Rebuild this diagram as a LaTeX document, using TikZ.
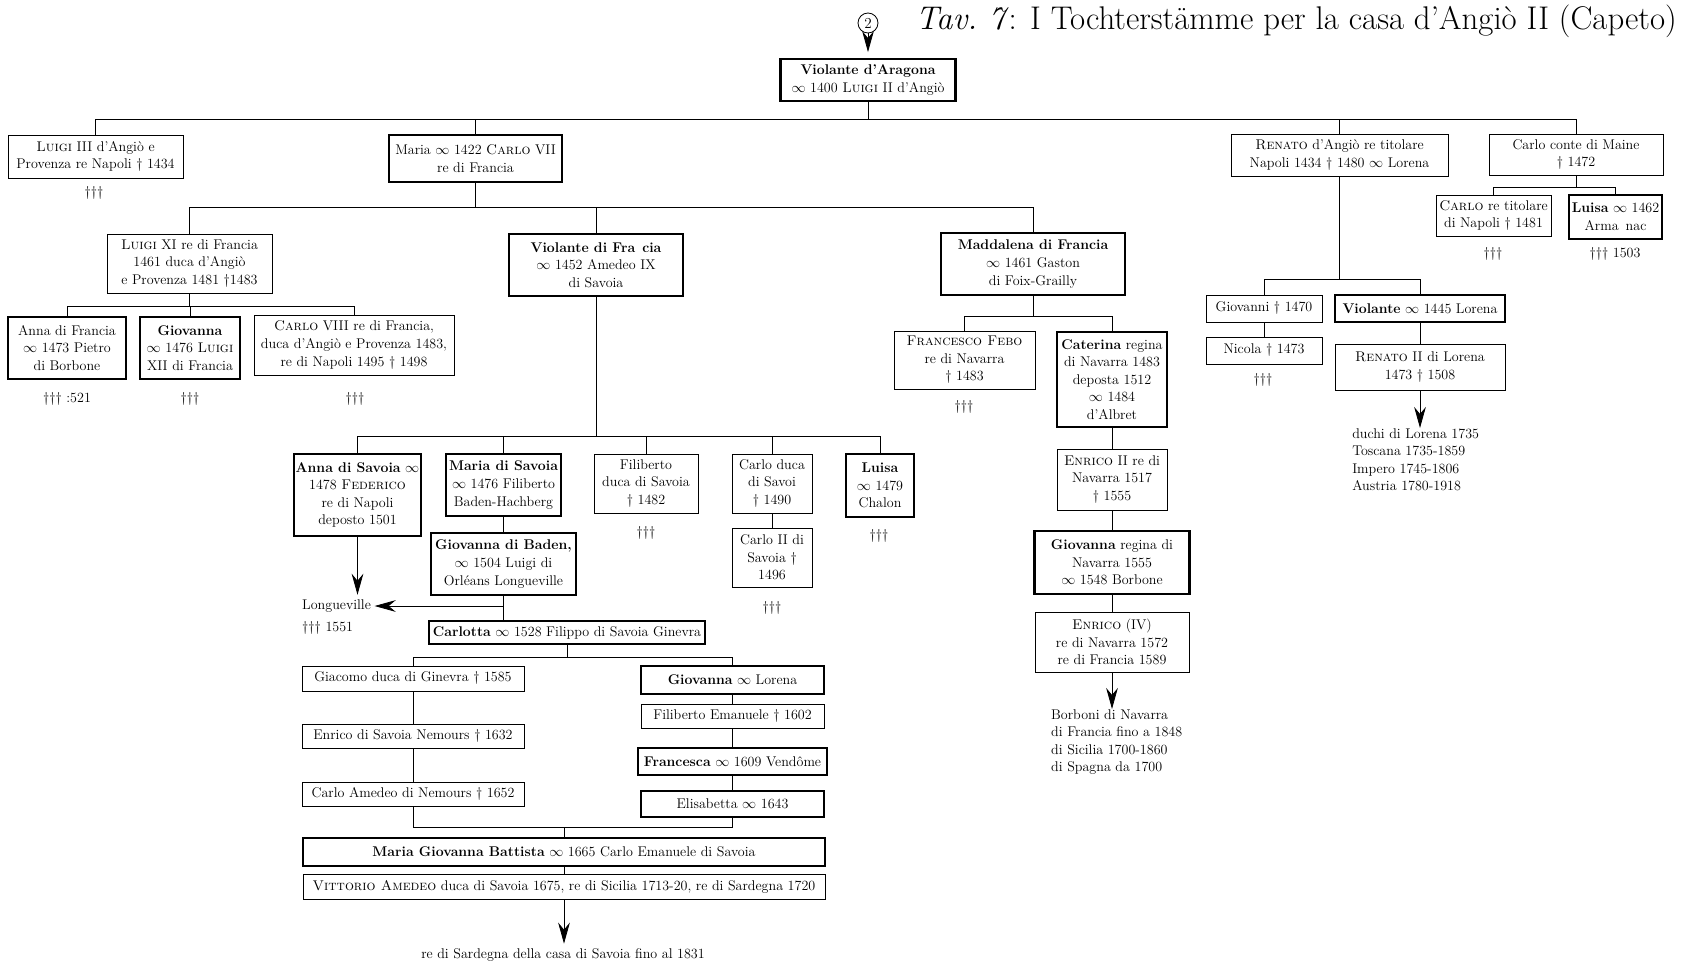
\documentclass[tikz,border=0pt]{standalone}
\usetikzlibrary{arrows.meta,positioning,calc}
\newcommand{\marr}{$\infty$}
\newcommand{\obiit}{\textdagger}
\newcommand{\extinct}{\textdagger\textdagger\textdagger}
\tikzset{
  thinbox/.style={draw,line width=0.7pt,align=center,inner sep=1.5pt,font=\fontsize{12}{15}\selectfont},
  thickbox/.style={thinbox,line width=1.8pt},
  link/.style={line width=0.7pt},
  desc/.style={-{Stealth[length=18pt,width=10pt,inset=6pt]},line width=0.7pt},
  note/.style={inner sep=0pt,font=\fontsize{12}{15}\selectfont},
}
\begin{document}
\begin{tikzpicture}[x=0.03cm,y=-0.03cm]
	\useasboundingbox (0,0) rectangle (1681,968);

	\node[anchor=base east,inner sep=0pt,font=\fontsize{28}{30}\selectfont] (title) at (1677,29) {\textit{Tav.\ 7}: I Tochterstämme per la casa d'Angiò II (Capeto)};
	\node[circle,draw,line width=0.7pt,inner sep=0pt,minimum size=0.6cm,font=\fontsize{13}{14}\selectfont] (two) at (868,23) {2};

	% generazione I
	\node[thickbox,minimum width=5.25cm,minimum height=1.26cm] (violA) at (868,80) {\textbf{Violante d'Aragona}\\\marr{} 1400 \textsc{Luigi} II d'Angiò};
	\node[thinbox,minimum width=5.25cm,minimum height=1.29cm] (luigiIII) at (95.5,156.5) {\textsc{Luigi} III d'Angiò e\\Provenza re Napoli \obiit{} 1434};
	\node[thickbox,minimum width=5.19cm,minimum height=1.41cm] (maria) at (475.5,158.5) {Maria \marr{} 1422 \textsc{Carlo} VII\\re di Francia};
	\node[thinbox,minimum width=6.51cm,minimum height=1.26cm] (renato) at (1339.5,155) {\textsc{Renato} d'Angiò re titolare\\Napoli 1434 \obiit{} 1480 \marr{} Lorena};
	\node[thinbox,minimum width=5.22cm,minimum height=1.23cm] (carloM) at (1576,154.5) {Carlo conte di Maine\\\obiit{} 1472};

	% figli di Carlo conte di Maine
	\node[thinbox,minimum width=3.45cm,minimum height=1.23cm] (carloRT) at (1493.5,215.5) {\textsc{Carlo} re titolare\\di Napoli \obiit{} 1481};
	\node[thickbox,minimum width=2.79cm,minimum height=1.32cm] (luisaA) at (1615.5,217) {\textbf{Luisa} \marr{} 1462\\Arma\enspace nac};

	% figli di Maria
	\node[thinbox,minimum width=4.95cm,minimum height=1.77cm] (luigiXI) at (189.5,263.5) {\textsc{Luigi} XI re di Francia\\1461 duca d'Angiò\\e Provenza 1481 \obiit1483};
	\node[thickbox,minimum width=5.22cm,minimum height=1.86cm] (violF) at (596,265) {\textbf{Violante di Fra\enspace cia}\\\marr{} 1452 Amedeo IX\\di Savoia};
	\node[thickbox,minimum width=5.52cm,minimum height=1.86cm] (madd) at (1033,264) {\textbf{Maddalena di Francia}\\\marr{} 1461 Gaston\\di Foix-Grailly};

	% figli di Luigi XI
	\node[thickbox,minimum width=3.54cm,minimum height=1.86cm] (anna) at (67,348) {Anna di Francia\\\marr{} 1473 Pietro\\di Borbone};
	\node[thickbox,minimum width=3.0cm,minimum height=1.86cm] (giovanna) at (190,348) {\textbf{Giovanna}\\\marr{} 1476 \textsc{Luigi}\\XII di Francia};
	\node[thinbox,minimum width=6.0cm,minimum height=1.8cm] (carlo8) at (354,345) {\textsc{Carlo} VIII re di Francia,\\duca d'Angiò e Provenza 1483,\\re di Napoli 1495 \obiit{} 1498};

	% figli di Renato
	\node[thinbox,minimum width=3.48cm,minimum height=0.81cm] (giovanni) at (1264,308.5) {Giovanni \obiit{} 1470};
	\node[thickbox,minimum width=5.1cm,minimum height=0.81cm] (violL) at (1420,308.5) {\textbf{Violante} \marr{} 1445 Lorena};
	\node[thinbox,minimum width=3.48cm,minimum height=0.81cm] (nicola) at (1264,350.5) {Nicola \obiit{} 1473};
	\node[thinbox,minimum width=5.1cm,minimum height=1.38cm] (renato2) at (1420,367) {\textsc{Renato} II di Lorena\\1473 \obiit{} 1508};

	% Navarra
	\node[thinbox,minimum width=4.23cm,minimum height=1.74cm] (febo) at (964.5,360) {\textsc{Francesco Febo}\\re di Navarra\\\obiit{} 1483};
	\node[thickbox,minimum width=3.3cm,minimum height=2.85cm] (caterina) at (1112,379.5) {\textbf{Caterina} regina\\di Navarra 1483\\deposta 1512\\\marr{} 1484\\d'Albret};
	\node[thinbox,minimum width=3.3cm,minimum height=1.83cm] (enrico2) at (1112,479.5) {\textsc{Enrico} II re di\\Navarra 1517\\\obiit{} 1555};
	\node[thickbox,minimum width=4.65cm,minimum height=1.89cm] (giovR) at (1112,562.5) {\textbf{Giovanna} regina di\\Navarra 1555\\\marr{} 1548 Borbone};
	\node[thinbox,minimum width=4.62cm,minimum height=1.8cm] (enrico4) at (1112,642) {\textsc{Enrico} (IV)\\re di Navarra 1572\\re di Francia 1589};

	% figli di Violante di Francia
	\node[thickbox,minimum width=3.69cm,minimum height=2.46cm] (annaS) at (357.5,495) {\textbf{Anna di Savoia} \marr\\1478 \textsc{Federico}\\re di Napoli\\deposto 1501};
	\node[thickbox,minimum width=3.45cm,minimum height=1.86cm] (mariaS) at (503.5,485) {\textbf{Maria di Savoia}\\\marr{} 1476 Filiberto\\Baden-Hachberg};
	\node[thinbox,minimum width=3.12cm,minimum height=1.77cm] (filib) at (646,483.5) {Filiberto\\duca di Savoia\\\obiit{} 1482};
	\node[thinbox,minimum width=2.4cm,minimum height=1.77cm] (carloD) at (772,483.5) {Carlo duca\\di Savoi\\\obiit{} 1490};
	\node[thickbox,minimum width=2.04cm,minimum height=1.89cm] (luisaS) at (880,485.5) {\textbf{Luisa}\\\marr{} 1479\\Chalon};
	\node[thickbox,minimum width=4.35cm,minimum height=1.86cm] (giovB) at (503.5,564) {\textbf{Giovanna di Baden,}\\\marr{} 1504 Luigi di\\Orléans Longueville};
	\node[thinbox,minimum width=2.4cm,minimum height=1.77cm] (carlo2) at (772,557.5) {Carlo II di\\Savoia \obiit\\1496};

	% Savoia Ginevra
	\node[thickbox,minimum width=8.28cm,minimum height=0.69cm] (carlotta) at (567,632.5) {\textbf{Carlotta} \marr{} 1528 Filippo di Savoia Ginevra};
	\node[thinbox,minimum width=6.66cm,minimum height=0.75cm] (giacomo) at (413,678.5) {Giacomo duca di Ginevra \obiit{} 1585};
	\node[thinbox,minimum width=6.66cm,minimum height=0.72cm] (enricoN) at (413,736) {Enrico di Savoia Nemours \obiit{} 1632};
	\node[thinbox,minimum width=6.66cm,minimum height=0.72cm] (carloA) at (413,794) {Carlo Amedeo di Nemours \obiit{} 1652};
	\node[thickbox,minimum width=5.49cm,minimum height=0.84cm] (giovL) at (732.5,680) {\textbf{Giovanna} \marr{} Lorena};
	\node[thinbox,minimum width=5.49cm,minimum height=0.72cm] (filibE) at (732.5,716) {Filiberto Emanuele \obiit{} 1602};
	\node[thickbox,minimum width=5.67cm,minimum height=0.81cm] (franc) at (732.5,761.5) {\textbf{Francesca} \marr{} 1609 Vendôme};
	\node[thickbox,minimum width=5.49cm,minimum height=0.78cm] (elis) at (732.5,804) {Elisabetta \marr{} 1643};
	\node[thickbox,minimum width=15.66cm,minimum height=0.84cm] (mgb) at (564,852) {\textbf{Maria Giovanna Battista} \marr{} 1665 Carlo Emanuele di Savoia};
	\node[thinbox,minimum width=15.66cm,minimum height=0.75cm] (vitt) at (564,886.5) {\textsc{Vittorio Amedeo} duca di Savoia 1675, re di Sicilia 1713-20, re di Sardegna 1720};

	% linee estinte e discendenze
	\node[note] (ext1) at (94,193) {\extinct};
	\node[note] (ext2) at (1493,254) {\extinct};
	\node[note] (ext3) at (1615,254) {\extinct{} 1503};
	\node[note] (ext4) at (67,399) {\extinct{} :521};
	\node[note] (ext5) at (190,399) {\extinct};
	\node[note] (ext6) at (355,399) {\extinct};
	\node[note] (ext7) at (1263,380) {\extinct};
	\node[note] (ext8) at (964,407) {\extinct};
	\node[note] (ext9) at (646,533) {\extinct};
	\node[note] (ext10) at (879,536) {\extinct};
	\node[note] (ext11) at (772,608) {\extinct};
	\node[note,anchor=west] (lgv) at (302,606) {Longueville};
	\node[note,anchor=west] (ext12) at (302,628) {\extinct{} 1551};
	\node[note,anchor=north west,align=left] (lor) at (1352,428) {duchi di Lorena 1735\\Toscana 1735-1859\\Impero 1745-1806\\Austria 1780-1918};
	\node[note,anchor=north west,align=left] (borb) at (1051,709) {Borboni di Navarra\\di Francia fino a 1848\\di Sicilia 1700-1860\\di Spagna da 1700};
	\node[note] (sard) at (563,955) {re di Sardegna della casa di Savoia fino al 1831};

	% connettori
	\draw[desc,shorten >=5pt] (two) -- (violA);
	\coordinate (g1) at (0,119);
	\draw[link] (violA) -- (violA |- g1);
	\draw[link] (luigiIII.north) -- (luigiIII.north |- g1) -- (carloM.north |- g1) -- (carloM.north);
	\foreach \c in {maria,renato} \draw[link] (\c.north) -- (\c.north |- g1);

	\coordinate (g2) at (0,207);
	\draw[link] (maria) -- (maria |- g2);
	\draw[link] (luigiXI.north) -- (luigiXI.north |- g2) -- (madd.north |- g2) -- (madd.north);
	\draw[link] (violF.north) -- (violF.north |- g2);

	\coordinate (g3) at (0,306);
	\draw[link] (luigiXI) -- (luigiXI |- g3);
	\draw[link] (anna.north) -- (anna.north |- g3) -- (carlo8.north |- g3) -- (carlo8.north);
	\draw[link] (giovanna.north) -- (giovanna.north |- g3);

	\coordinate (g4) at (0,436);
	\draw[link] (violF) -- (violF |- g4);
	\draw[link] (annaS.north) -- (annaS.north |- g4) -- (luisaS.north |- g4) -- (luisaS.north);
	\foreach \c in {mariaS,filib,carloD} \draw[link] (\c.north) -- (\c.north |- g4);

	\coordinate (g5) at (0,316);
	\draw[link] (madd) -- (madd |- g5);
	\draw[link] (febo.north) -- (febo.north |- g5) -- (caterina.north |- g5) -- (caterina.north);
	\draw[link] (caterina) -- (enrico2);
	\draw[link] (enrico2) -- (giovR);
	\draw[link] (giovR) -- (enrico4);
	\draw[desc] (enrico4) -- (enrico4.south |- borb.north);

	\coordinate (g6) at (0,187);
	\draw[link] (carloM) -- (carloM |- g6);
	\draw[link] (carloRT.north) -- (carloRT.north |- g6) -- (luisaA.north |- g6) -- (luisaA.north);

	\coordinate (g7) at (0,279);
	\draw[link] (renato) -- (renato |- g7);
	\draw[link] (giovanni.north) -- (giovanni.north |- g7) -- (violL.north |- g7) -- (violL.north);
	\draw[link] (giovanni) -- (nicola);
	\draw[link] (violL) -- (renato2);
	\draw[desc] (renato2) -- (renato2.south |- lor.north);

	\draw[link] (carloD) -- (carlo2);
	\draw[link] (mariaS) -- (giovB);
	\draw[link] (giovB.south) -- (giovB.south |- carlotta.north);
	\draw[desc,shorten >=3pt] (giovB.south |- lgv.east) -- (lgv.east);
	\draw[desc,shorten >=4pt] (annaS) -- (annaS.south |- lgv.north);

	\coordinate (g8) at (0,657);
	\draw[link] (carlotta) -- (carlotta |- g8);
	\draw[link] (giacomo.north) -- (giacomo.north |- g8) -- (giovL.north |- g8) -- (giovL.north);
	\draw[link] (giacomo) -- (enricoN);
	\draw[link] (enricoN) -- (carloA);
	\draw[link] (giovL) -- (filibE);
	\draw[link] (filibE) -- (franc);
	\draw[link] (franc) -- (elis);

	\coordinate (g9) at (0,827);
	\draw[link] (carloA.south) -- (carloA.south |- g9) -- (elis.south |- g9) -- (elis.south);
	\draw[link] (mgb.north) -- (mgb.north |- g9);
	\draw[link] (mgb) -- (vitt);
	\draw[desc,shorten >=4pt] (vitt) -- (vitt.south |- sard.north);
\end{tikzpicture}
\end{document}
